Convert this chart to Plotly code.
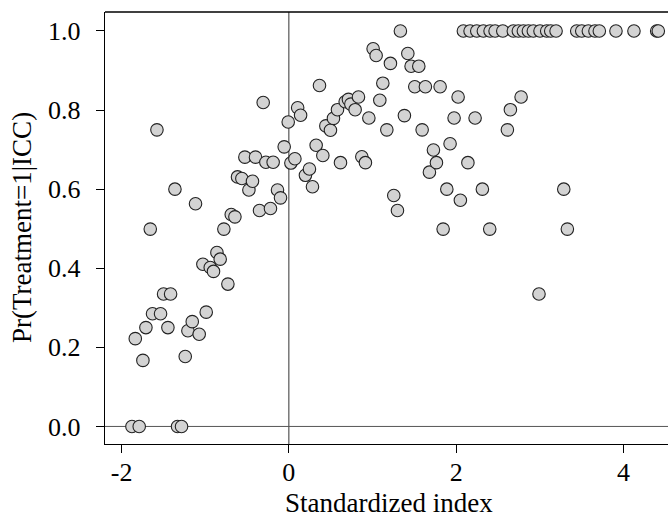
import plotly.graph_objects as go

# Scatter points (standardized index, probability)
index_vals = [
    -1.876, -1.789, -1.331, -1.283, -1.836, -1.745, -1.709, -1.630, -1.534, -1.498,
    -1.414, -1.446, -1.657, -1.577, -1.362, -1.239, -1.207, -1.155, -1.072, -1.116,
    -1.028, -0.988, -0.940, -0.901, -0.860, -0.821, -0.777, -0.729, -0.689, -0.645,
    -0.614, -0.562, -0.526, -0.478, -0.435, -0.399, -0.351, -0.307, -0.275, -0.220,
    -0.188, -0.136, -0.100, -0.056, -0.008, 0.024, 0.072, 0.105, 0.140, 0.198,
    0.246, 0.282, 0.326, 0.366, 0.406, 0.442, 0.497, 0.533, 0.581, 0.617,
    0.673, 0.712, 0.741, 0.792, 0.832, 0.872, 0.915, 0.956, 1.007, 1.043,
    1.087, 1.123, 1.171, 1.214, 1.254, 1.298, 1.333, 1.381, 1.422, 1.461,
    1.505, 1.553, 1.593, 1.632, 1.680, 1.728, 1.764, 1.808, 1.844, 1.888,
    1.927, 1.975, 2.023, 2.050, 2.140, 2.226, 2.313, 2.401, 2.612, 2.648,
    2.776, 2.990, 3.286, 3.329,
    2.086, 2.166, 2.246, 2.325, 2.405, 2.465, 2.557, 2.683, 2.743, 2.803,
    2.863, 2.922, 3.002, 3.082, 3.130, 3.194, 3.441, 3.501, 3.580, 3.659,
    3.711, 3.910, 4.125, 4.397, 4.416,
]
prob_vals = [
    0.0, 0.0, 0.0, 0.0, 0.222, 0.167, 0.250, 0.285, 0.285, 0.335,
    0.335, 0.250, 0.499, 0.750, 0.600, 0.177, 0.242, 0.265, 0.233, 0.563,
    0.410, 0.289, 0.402, 0.392, 0.440, 0.423, 0.499, 0.360, 0.536, 0.530,
    0.631, 0.627, 0.681, 0.598, 0.620, 0.681, 0.546, 0.819, 0.668, 0.551,
    0.668, 0.598, 0.578, 0.707, 0.770, 0.666, 0.677, 0.806, 0.787, 0.635,
    0.651, 0.606, 0.711, 0.862, 0.685, 0.760, 0.749, 0.779, 0.801, 0.667,
    0.821, 0.827, 0.815, 0.801, 0.833, 0.682, 0.667, 0.780, 0.955, 0.938,
    0.825, 0.868, 0.750, 0.918, 0.584, 0.546, 1.0, 0.786, 0.943, 0.911,
    0.859, 0.911, 0.750, 0.859, 0.643, 0.699, 0.667, 0.859, 0.499, 0.600,
    0.715, 0.780, 0.833, 0.572, 0.667, 0.780, 0.600, 0.499, 0.750, 0.801,
    0.833, 0.335, 0.600, 0.499,
    1.0, 1.0, 1.0, 1.0, 1.0, 1.0, 1.0, 1.0, 1.0, 1.0,
    1.0, 1.0, 1.0, 1.0, 1.0, 1.0, 1.0, 1.0, 1.0, 1.0,
    1.0, 1.0, 1.0, 1.0, 1.0,
]

x_ticks = [-2, 0, 2, 4]
y_ticks = [0.0, 0.2, 0.4, 0.6, 0.8, 1.0]

FONT = "Liberation Serif"
TICK_SIZE = 26
TITLE_SIZE = 27

fig = go.Figure()
fig.add_trace(go.Scatter(
    x=index_vals, y=prob_vals, mode="markers",
    marker=dict(size=12.5, color="#d3d3d3", line=dict(color="#222222", width=1.1)),
    showlegend=False, cliponaxis=True, hoverinfo="skip",
))

fig.update_layout(
    width=668, height=518,
    margin=dict(l=105, r=0, t=12, b=74, autoexpand=False),
    paper_bgcolor="white", plot_bgcolor="white",
    font=dict(family=FONT, size=TICK_SIZE, color="black"),
    xaxis=dict(
        range=[-2.198, 4.532], tickvals=x_ticks, ticktext=[str(v) for v in x_ticks],
        ticks="outside", ticklen=8, tickwidth=1, tickcolor="black",
        showline=True, linecolor="black", linewidth=1.3, mirror=False,
        showgrid=False, zeroline=False, tickfont=dict(family=FONT, size=TICK_SIZE),
        ticklabelstandoff=-4, automargin=False,
    ),
    yaxis=dict(
        range=[-0.0444, 1.048], tickvals=y_ticks, tickformat=".1f",
        ticks="outside", ticklen=8, tickwidth=1, tickcolor="black",
        showline=True, linecolor="black", linewidth=1.3, mirror=False,
        showgrid=False, zeroline=False, tickfont=dict(family=FONT, size=TICK_SIZE),
        ticklabelstandoff=10, automargin=False,
    ),
    shapes=[
        dict(type="line", xref="x", yref="paper", x0=0, x1=0, y0=0, y1=1,
             line=dict(color="#333333", width=1), layer="below"),
        dict(type="line", xref="paper", yref="y", x0=0, x1=1, y0=0, y1=0,
             line=dict(color="#555555", width=1), layer="below"),
        dict(type="line", xref="paper", yref="paper", x0=0, x1=1, y0=1, y1=1,
             line=dict(color="black", width=1.3)),
    ],
    annotations=[
        dict(text="Standardized index", xref="paper", yref="paper",
             x=(389 - 105) / 563, y=0, yshift=-(503 - 444), xanchor="center", yanchor="middle",
             showarrow=False, font=dict(family=FONT, size=TITLE_SIZE)),
        dict(text="Pr(Treatment=1|ICC)", xref="paper", yref="paper",
             x=0, xshift=-(105 - 22), y=0.5, xanchor="center", yanchor="middle",
             textangle=-90, showarrow=False, font=dict(family=FONT, size=TITLE_SIZE)),
    ],
)

fig.write_html(
    "out.html",
    config={"displayModeBar": False, "staticPlot": True},
    post_script="document.body.style.margin='0';document.body.style.padding='0';document.body.style.overflow='hidden';",
)
